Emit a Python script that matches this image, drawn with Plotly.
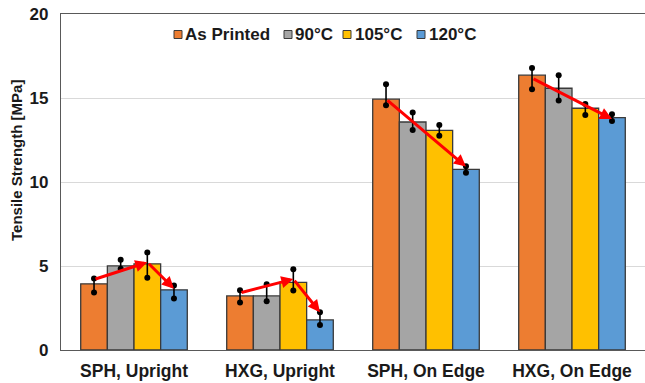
import plotly.graph_objects as go

# ---------------- data ----------------
categories = ["SPH, Upright", "HXG, Upright", "SPH, On Edge", "HXG, On Edge"]
series_names = ["As Printed", "90°C", "105°C", "120°C"]

as_printed = [3.94, 3.22, 14.93, 16.36]
t90 = [5.01, 3.22, 13.57, 15.58]
t105 = [5.13, 4.02, 13.07, 14.39]
t120 = [3.58, 1.79, 10.75, 13.83]

as_printed_hi = [4.26, 3.56, 15.82, 16.79]
as_printed_lo = [3.42, 2.83, 14.57, 15.52]
t90_hi = [5.37, 3.92, 14.13, 16.36]
t90_lo = [4.84, 2.90, 13.09, 14.85]
t105_hi = [5.81, 4.80, 13.39, 14.64]
t105_lo = [4.30, 3.54, 12.76, 13.99]
t120_hi = [3.84, 2.25, 10.94, 14.03]
t120_lo = [3.06, 1.49, 10.55, 13.63]

# trend arrows: (category index, from series, to series, start value, end value)
trend_arrows = [
    (0, 0, 2, 4.20, 5.22),
    (0, 2, 3, 5.22, 3.65),
    (1, 0, 2, 3.40, 4.22),
    (1, 2, 3, 4.22, 2.25),
    (2, 0, 3, 14.93, 10.92),
    (3, 0, 3, 16.18, 13.75),
]

y_ticks = [0, 5, 10, 15, 20]

# ---------------- style ----------------
colors = ["#ED7D31", "#A5A5A5", "#FFC000", "#5B9BD5"]
FONT = "Liberation Sans, Arial, sans-serif"
W, H = 645, 383
ML, MR, MT, MB = 61, 0, 14, 33
PW, PH = W - ML - MR, H - MT - MB

values = [as_printed, t90, t105, t120]
his = [as_printed_hi, t90_hi, t105_hi, t120_hi]
los = [as_printed_lo, t90_lo, t105_lo, t120_lo]

group_w = 0.73
bar_w = group_w / 4


def offset(j):
    return -group_w / 2 + (j + 0.5) * bar_w


fig = go.Figure()
for j, name in enumerate(series_names):
    xs = [i + offset(j) for i in range(len(categories))]
    v = values[j]
    fig.add_trace(go.Bar(
        x=xs, y=v, width=bar_w, name=name, showlegend=False,
        marker=dict(color=colors[j], line=dict(color="#3A3A3A", width=1.3)),
        error_y=dict(type="data", symmetric=False,
                     array=[h - a for h, a in zip(his[j], v)],
                     arrayminus=[a - l for l, a in zip(los[j], v)],
                     color="black", thickness=1.6, width=0),
    ))
    fig.add_trace(go.Scatter(
        x=xs + xs, y=his[j] + los[j], mode="markers", showlegend=False,
        marker=dict(color="black", size=6), hoverinfo="skip",
    ))

annotations = []
for (ci, a, b, v0, v1) in trend_arrows:
    annotations.append(dict(
        x=ci + offset(b), y=v1, ax=ci + offset(a), ay=v0,
        xref="x", yref="y", axref="x", ayref="y",
        showarrow=True, arrowhead=2, arrowsize=0.8, arrowwidth=3,
        arrowcolor="#FF0000", text="", standoff=0, startstandoff=0,
    ))


def px2x(px):
    return (px - ML) / PW


def px2y(py):
    return (H - MB - py) / PH


# custom legend
legend_sq = [174, 284, 343, 417]
legend_tx = [184, 294, 354, 428]
shapes = []
for j, name in enumerate(series_names):
    shapes.append(dict(
        type="rect", xref="paper", yref="paper",
        x0=px2x(legend_sq[j]), x1=px2x(legend_sq[j] + 8),
        y0=px2y(38.5), y1=px2y(30.5),
        fillcolor=colors[j], line=dict(color="#3A3A3A", width=1),
    ))
    annotations.append(dict(
        x=px2x(legend_tx[j]), y=px2y(34), xref="paper", yref="paper",
        text=name, showarrow=False, xanchor="left", yanchor="middle",
        borderpad=0, font=dict(family=FONT, size=17, color="#1a1a1a", weight=700),
    ))

# y-axis title
annotations.append(dict(
    x=px2x(16), y=px2y(161), xref="paper", yref="paper",
    text="Tensile Strength [MPa]", showarrow=False, textangle=-90,
    xanchor="center", yanchor="middle",
    font=dict(family=FONT, size=15, color="#1a1a1a", weight=700),
))

fig.update_layout(
    width=W, height=H,
    margin=dict(l=ML, r=MR, t=MT, b=MB),
    paper_bgcolor="white", plot_bgcolor="white",
    barmode="overlay",
    showlegend=False,
    annotations=annotations,
    shapes=shapes,
    font=dict(family=FONT, color="#1a1a1a"),
)
fig.update_xaxes(
    range=[-0.5, 3.5], tickvals=list(range(len(categories))), ticktext=categories,
    showgrid=False, zeroline=False, showline=True, linecolor="#595959", linewidth=1.3,
    mirror=True, ticks="", ticklabelstandoff=5,
    tickfont=dict(family=FONT, size=17.5, color="#1a1a1a", weight=700),
)
fig.update_yaxes(
    range=[0, 20], tickvals=y_ticks, showgrid=True, gridcolor="#D9D9D9", gridwidth=1,
    zeroline=False, showline=True, linecolor="#595959", linewidth=1.3,
    ticks="", ticklabelstandoff=8,
    tickfont=dict(family=FONT, size=17, color="#1a1a1a", weight=700),
)

fig.write_html("out.html")
